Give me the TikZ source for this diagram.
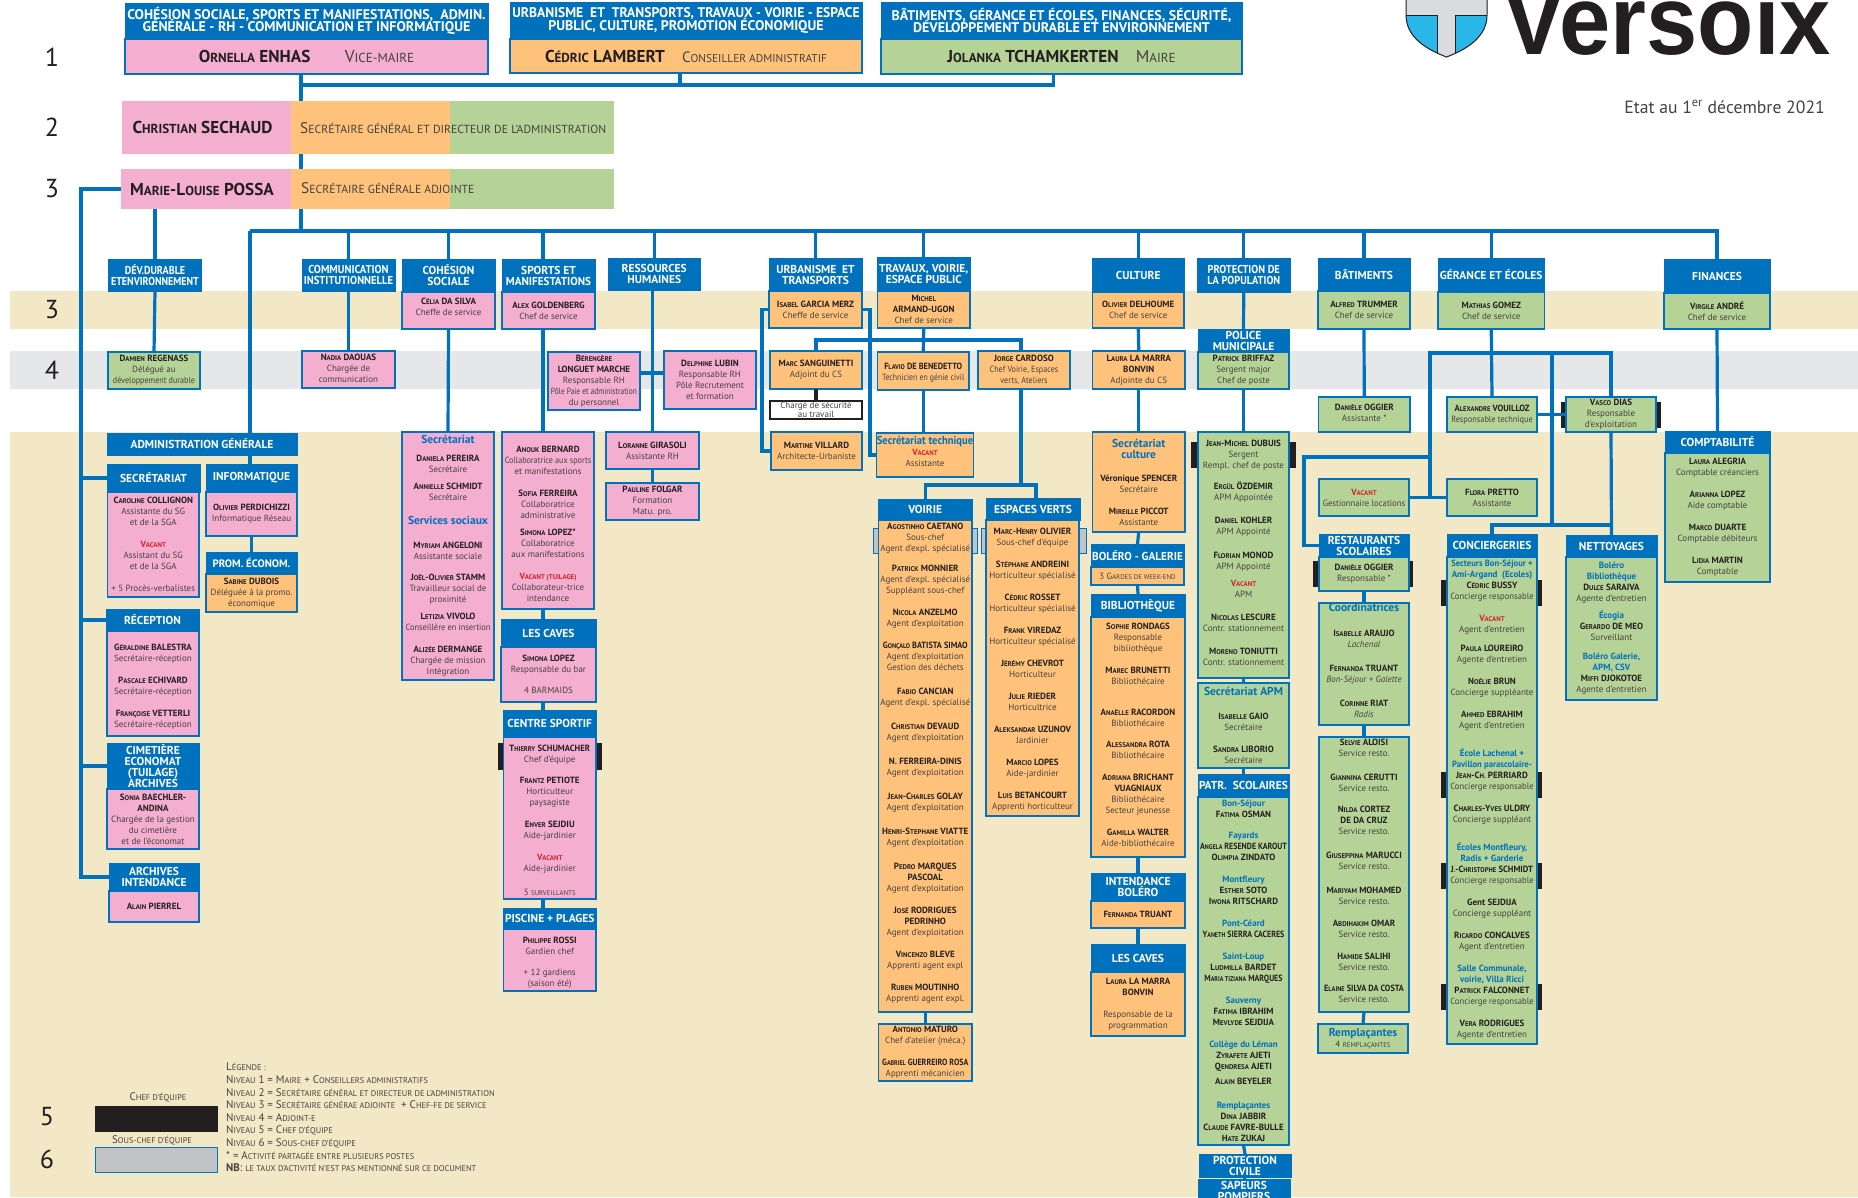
\documentclass[tikz,border=0pt]{standalone}
\usepackage{graphicx}
\usepackage{fontspec}
\setmainfont{PT Sans}
\usetikzlibrary{calc}

\definecolor{headblue}{HTML}{0071BC}
\definecolor{pinkfill}{HTML}{F4AECF}
\definecolor{orangefill}{HTML}{FFC27A}
\definecolor{greenfill}{HTML}{B5D397}
\definecolor{beigeband}{HTML}{F3E8C6}
\definecolor{greyband}{HTML}{E6E7E8}
\definecolor{subgrey}{HTML}{C1C3C5}
\definecolor{namecol}{HTML}{231F20}
\definecolor{rolecol}{HTML}{45423F}
\definecolor{vacred}{HTML}{D2232A}
\definecolor{shieldblue}{HTML}{29B6E9}
\definecolor{shieldgrey}{HTML}{DADBDF}

\makeatletter
\newcommand\smc[1]{{\@tempdima=.76\dimexpr\f@size pt\relax\fontsize{\the\@tempdima}{\the\baselineskip}\selectfont\MakeUppercase{#1}}}
\makeatother
\def\fnsplit#1#2\relax{#1\smc{#2}}
\newcommand\fname[1]{\fnsplit#1\relax}
\newcommand\pn[2]{\textbf{\color{namecol}\fname{#1} #2}}
\newcommand\pnh[3]{\textbf{\color{namecol}\fname{#1}-\fname{#2} #3}}
\newcommand\vac[1]{\textbf{\color{vacred}\fname{#1}}}
\newcommand\bs[1]{\textbf{\color{headblue}#1}}
\newcommand\bt[1]{{\fontsize{11.5}{12}\selectfont\textbf{\color{headblue}#1}}}
\newcommand\sq[2]{\scalebox{#1}[1]{#2}}
\newcommand\pad[1]{\rule[-#1pt]{0pt}{#1pt}}
\newcommand\padt[1]{\rule{0pt}{#1pt}}
\newcommand\orgbox[7][]{\node[minimum width={#5-#3},minimum height={#6-#4},#1] (#2) at ({(#3+#5)/2},{(#4+#6)/2}) {#7};}

\tikzset{
	headbox/.style={fill=headblue,draw=headblue,line width=.6pt,inner sep=0,outer sep=0,align=center,text=white,font=\bfseries\fontsize{11.5}{11}\selectfont},
	tophead/.style={headbox,font=\bfseries\fontsize{14}{12}\selectfont},
	body/.style={draw=headblue,line width=1.2pt,inner sep=0,outer sep=0,align=center,text=rolecol,font=\fontsize{9}{11}\selectfont},
	pinkbox/.style={body,fill=pinkfill},
	orangebox/.style={body,fill=orangefill},
	greenbox/.style={body,fill=greenfill},
	plainbar/.style={inner sep=0,outer sep=0},
	chefbar/.style={fill=namecol,inner sep=0,outer sep=0},
	souschefbar/.style={fill=subgrey,draw=headblue,line width=.8pt,inner sep=0,outer sep=0},
	link/.style={draw=headblue,line width=3.2pt},
	level/.style={text=namecol,font=\fontsize{26}{26}\selectfont},
	topname/.style={font=\fontsize{17.2}{18}\selectfont},
	barrole/.style={anchor=west,inner sep=0,text=rolecol,font=\fontsize{15.4}{16}\selectfont}
}

\begin{document}
\begin{tikzpicture}[x=1pt,y=-1pt]

	\useasboundingbox (0,0) rectangle (1858,1197);
	\clip (0,0) rectangle (1858,1197);
	\fill [white] (0,0) rectangle (1858,1197);

	% bands
	\fill [beigeband] (10,291) rectangle (1858,329);
	\fill [greyband] (10,351) rectangle (1858,389);
	\fill [beigeband] (10,432) rectangle (1858,1197);

	\foreach \num/\xpos/\ypos in {1/52/57,2/52/127,3/52/189,3/52/310,4/52/370,5/47/1117,6/47/1159}
	{
		\node[level] (lvl\ypos) at (\xpos,\ypos) {\num};
	}

	% logo
	\begin{scope}
		\clip (1406,-5) -- (1406,15) .. controls (1406,38) and (1428,50) .. (1446.5,57) .. controls (1465,50) and (1487,38) .. (1487,15) -- (1487,-5) -- cycle;
		\fill [shieldgrey] (1400,-5) rectangle (1490,60);
		\fill [shieldblue] (1400,15) rectangle (1437,60);
		\fill [shieldblue] (1455,15) rectangle (1490,60);
		\draw [line width=1pt,namecol] (1400,15) -- (1437,15) -- (1437,60);
		\draw [line width=1pt,namecol] (1490,15) -- (1455,15) -- (1455,60);
	\end{scope}
	\draw [line width=1pt,namecol] (1406,-5) -- (1406,15) .. controls (1406,38) and (1428,50) .. (1446.5,57) .. controls (1465,50) and (1487,38) .. (1487,15) -- (1487,-5);
	\node[anchor=base west,inner sep=0,text=namecol,font=\fontspec{Liberation Sans}\bfseries\fontsize{98}{98}\selectfont] (versoix) at (1503,54) {\scalebox{.94}[1]{Versoix}};
	\node[anchor=east,inner sep=0,text=rolecol,font=\fontsize{17.7}{18}\selectfont] (etat) at (1825,107) {Etat au 1\textsuperscript{er} décembre 2021};

	% level 1
	\orgbox[tophead]{t1h}{125}{3}{488}{39}{COHÉSION SOCIALE, SPORTS ET MANIFESTATIONS,\ \ ADMIN.\\[-3pt]GÉNÉRALE - RH - COMMUNICATION ET INFORMATIQUE}
	\orgbox[pinkbox,topname]{t1}{125}{39}{488}{74}{\pn{Ornella}{ENHAS}\qquad\fname{Vice-Maire}}
	\orgbox[tophead]{t2h}{510}{2}{862}{39}{\sq{.97}{URBANISME\ \ ET\ \ TRANSPORTS, TRAVAUX - VOIRIE - ESPACE}\\[-3pt]PUBLIC, CULTURE, PROMOTION ÉCONOMIQUE}
	\orgbox[orangebox,topname]{t2}{510}{39}{862}{73}{\pn{Cédric}{LAMBERT}\quad{\fontsize{15}{16}\selectfont\fname{Conseiller administratif}}}
	\orgbox[tophead]{t3h}{881}{2}{1242}{39}{BÂTIMENTS, GÉRANCE ET ÉCOLES, FINANCES, SÉCURITÉ,\\[-3pt]DÉVELOPPEMENT DURABLE ET ENVIRONNEMENT}
	\orgbox[greenbox,topname]{t3}{881}{39}{1242}{74}{\pn{Jolanka}{TCHAMKERTEN}\quad\fname{Maire}}

	% level 2 and 3
	\orgbox[plainbar,fill=pinkfill,topname]{bar2a}{122}{101}{291}{154}{\pn{Christian}{SECHAUD}\hspace*{8pt}}
	\orgbox[plainbar,fill=orangefill]{bar2b}{291}{101}{450}{154}{}
	\orgbox[plainbar,fill=greenfill]{bar2c}{450}{101}{614}{154}{}
	\node[barrole] (bar2t) at (300,128) {\fname{Secrétaire général et directeur de l'administration}};
	\orgbox[plainbar,fill=pinkfill,topname]{bar3a}{121}{169}{291}{209}{\pnh{Marie}{Louise}{POSSA}\hspace*{8pt}}
	\orgbox[plainbar,fill=orangefill]{bar3b}{291}{169}{450}{209}{}
	\orgbox[plainbar,fill=greenfill]{bar3c}{450}{169}{614}{209}{}
	\node[barrole] (bar3t) at (301,188) {\fname{Secrétaire générale adjointe}};

	% services, first column
	\orgbox[headbox]{devh}{108.5}{259}{201.5}{291}{\sq{.88}{DÉV.DURABLE}\\\sq{.87}{ETENVIRONNEMENT}}
	\orgbox[greenbox]{dev}{108}{352}{200}{389}{\pn{Damien}{REGENASS}\\Délégué au\\\sq{.9}{développement durable}}
	\orgbox[headbox]{commh}{302}{259}{395}{291}{\sq{.92}{COMMUNICATION}\\\sq{.92}{INSTITUTIONNELLE}}
	\orgbox[pinkbox]{comm}{302}{351}{395}{388}{\pn{Nadia}{DAOUAS}\\Chargée de\\communication\pad{3}}
	\orgbox[headbox]{admh}{107}{433}{297}{455}{ADMINISTRATION GÉNÉRALE}
	\orgbox[headbox]{secth}{107}{464}{200}{492}{SECRÉTARIAT}
	\orgbox[pinkbox]{sect}{107.5}{492}{199}{597}{\pn{Caroline}{COLLIGNON}\\Assistante du SG\\et de la SGA\\[11pt]\vac{Vacant}\\Assistant du SG\\et de la SGA\\[11pt]+ 5 Procès-verbalistes}
	\orgbox[headbox]{infoh}{206}{464}{297}{492}{INFORMATIQUE}
	\orgbox[pinkbox]{info}{206}{492}{297}{536}{\pn{Olivier}{PERDICHIZZI}\\Informatique Réseau}
	\orgbox[headbox,font=\bfseries\fontsize{10.8}{11}\selectfont]{promh}{206}{552}{297}{574}{PROM. ÉCONOM.}
	\orgbox[orangebox]{prom}{206}{574}{297}{612}{\pn{Sabine}{DUBOIS}\\Déléguée à la promo.\\économique}
	\orgbox[headbox]{recph}{106}{609}{199}{631}{RÉCEPTION}
	\orgbox[pinkbox]{recp}{107}{631}{199}{736}{\padt{13}\pn{Géraldine}{BALESTRA}\\Secrétaire-réception\\[11pt]\pn{Pascale}{ECHIVARD}\\Secrétaire-réception\\[11pt]\pn{Françoise}{VETTERLI}\\Secrétaire-réception}
	\orgbox[headbox]{cimh}{107}{743}{199}{789}{CIMETIÈRE\\ECONOMAT\\(TUILAGE)\\ARCHIVES}
	\orgbox[pinkbox]{cim}{107}{789}{199}{849}{\pn{Sonia}{BAECHLER-}\\\textbf{\color{namecol}ANDINA}\\Chargée de la gestion\\du cimetière\\et de l'économat}
	\orgbox[headbox]{archh}{109}{863}{199}{891}{ARCHIVES\\INTENDANCE}
	\orgbox[pinkbox]{arch}{109}{891}{199}{922}{\pn{Alain}{PIERREL}}

	% cohesion, sports, rh
	\orgbox[headbox]{cohh}{402}{259}{495}{292}{COHÉSION\\SOCIALE}
	\orgbox[pinkbox]{coh}{402}{292}{495}{329}{\pn{Célia}{DA SILVA}\\Cheffe de service\pad{7}}
	\orgbox[pinkbox]{cohsec}{402}{432}{494}{680}{\bt{Secrétariat}\\[7pt]\pn{Daniela}{PEREIRA}\\Secrétaire\\[6pt]\pn{Annielle}{SCHMIDT}\\Secrétaire\\[13pt]\bt{Services sociaux}\\[13pt]\pn{Myriam}{ANGELONI}\\Assistante sociale\\[10pt]\pnh{Joël}{Olivier}{STAMM}\\Travailleur social de\\proximité\\[6pt]\pn{Letizia}{VIVOLO}\\\sq{.93}{Conseillère en insertion}\\[11pt]\pn{Alizée}{DERMANGE}\\Chargée de mission\\Intégration}
	\orgbox[headbox]{sporth}{502}{259}{595}{292}{SPORTS ET\\\sq{.97}{MANIFESTATIONS}}
	\orgbox[pinkbox]{sport}{502}{292}{595}{329}{\pn{Alex}{GOLDENBERG}\\Chef de service}
	\orgbox[pinkbox]{anouk}{502}{432}{594}{609}{\padt{14}\pn{Anouk}{BERNARD}\\\sq{.9}{Collaboratrice aux sports}\\et manifestations\\[11pt]\pn{Sofia}{FERREIRA}\\Collaboratrice\\administrative\\[6pt]\pn{Simona}{LOPEZ*}\\Collaboratrice\\aux manifestations\\[11pt]\vac{Vacant (tuilage)}\\Collaborateur-trice\\intendance}
	\orgbox[pinkbox]{beren}{548}{352}{640}{410}{\textbf{\color{namecol}\fname{Bérengère}}\\\textbf{\color{namecol}LONGUET MARCHE}\\Responsable RH\\\sq{.83}{Pôle Paie et administration}\\du personnel}
	\orgbox[headbox]{cavesh}{501}{619}{596}{647}{LES CAVES}
	\orgbox[pinkbox]{caves}{501}{647}{596}{702}{\pn{Simona}{LOPEZ}\\Responsable du bar\\[10pt]4 BARMAIDS}
	\orgbox[chefbar]{centretab}{498}{743}{602}{770}{}
	\orgbox[headbox]{centreh}{503.5}{710}{596}{737}{CENTRE SPORTIF}
	\orgbox[pinkbox]{centre}{503.5}{737}{596}{899}{\padt{11}\sq{.96}{\pn{Thierry}{SCHUMACHER}}\\Chef d'équipe\\[10pt]\pn{Frantz}{PETIOTE}\\Horticulteur\\paysagiste\\[11pt]\pn{Enver}{SEJDIU}\\Aide-jardinier\\[11pt]\vac{Vacant}\\Aide-jardinier\\[13pt]5 \smc{surveillants}}
	\orgbox[headbox]{piscineh}{503.5}{908}{596}{929}{PISCINE + PLAGES}
	\orgbox[pinkbox]{piscine}{503.5}{929}{596}{991}{\padt{11}\pn{Philippe}{ROSSI}\\Gardien chef\\[10pt]+ 12 gardiens\\(saison été)}
	\orgbox[headbox]{rhh}{608}{258}{700.5}{290}{RESSOURCES\\HUMAINES}
	\orgbox[pinkbox]{delph}{664}{351}{756}{409}{\pn{Delphine}{LUBIN}\\Responsable RH\\Pôle Recrutement\\et formation}
	\orgbox[pinkbox]{lorane}{606}{432}{699}{469}{\pn{Loranne}{GIRASOLI}\\Assistante RH}
	\orgbox[pinkbox]{pauline}{606}{483}{699}{520}{\pn{Pauline}{FOLGAR}\\Formation\\Matu. pro.}

	% urbanisme, travaux
	\orgbox[headbox]{urbh}{769}{258}{862}{291}{URBANISME\ \ ET\\TRANSPORTS}
	\orgbox[orangebox]{urb}{769}{291}{862}{328}{\pn{Isabel}{GARCIA MERZ}\\Cheffe de service}
	\orgbox[orangebox]{marc}{770}{351}{862}{389}{\pn{Marc}{SANGUINETTI}\\Adjoint du CS}
	\orgbox[body,fill=white,draw=namecol,font=\fontsize{9}{8.5}\selectfont]{secu}{770}{401}{862}{419}{Chargé de sécurité\\au travail}
	\orgbox[orangebox]{mart}{771}{432}{862}{470}{\pn{Martine}{VILLARD}\\Architecte-Urbaniste}
	\orgbox[headbox]{travh}{877.5}{257}{970}{291}{TRAVAUX, VOIRIE,\\ESPACE PUBLIC}
	\orgbox[orangebox]{trav}{877.5}{291}{970}{328}{\textbf{\color{namecol}\fname{Michel}}\\\textbf{\color{namecol}ARMAND-UGON}\\Chef de service}
	\orgbox[orangebox]{flavio}{877.5}{352}{969}{390}{\padt{10}\sq{.92}{\pn{Flavio}{DE BENEDETTO}}\\\sq{.87}{Technicien en génie civil}}
	\orgbox[orangebox]{jorge}{978}{351}{1070}{389}{\pn{Jorge}{CARDOSO}\\\sq{.9}{Chef Voirie, Espaces}\\\sq{.9}{verts, Ateliers}}
	\orgbox[orangebox]{sectech}{878}{433}{972}{477}{\sq{.92}{\bt{Secrétariat technique}}\\\vac{Vacant}\\Assistante\pad{7}}
	\orgbox[souschefbar]{voirtab}{873}{528}{977.5}{553}{}
	\orgbox[headbox]{voirh}{878}{499}{972.5}{520}{VOIRIE}
	\orgbox[orangebox]{voir}{878.5}{520}{972}{1012}{\pn{Agostinho}{CAETANO}\\Sous-chef\\Agent d'expl. spécialisé\\[9pt]\pn{Patrick}{MONNIER}\\Agent d'expl. spécialisé\\Suppléant sous-chef\\[11pt]\pn{Nicola}{ANZELMO}\\Agent d'exploitation\\[11pt]\sq{.92}{\pn{Gonçalo}{BATISTA SIMAO}}\\Agent d'exploitation\\Gestion des déchets\\[13pt]\pn{Fabio}{CANCIAN}\\Agent d'expl. spécialisé\\[13pt]\pn{Christian}{DEVAUD}\\Agent d'exploitation\\[13pt]\textbf{\color{namecol}N. FERREIRA-DINIS}\\Agent d'exploitation\\[13pt]\pnh{Jean}{Charles}{GOLAY}\\Agent d'exploitation\\[13pt]\pnh{Henri}{Stephane}{VIATTE}\\Agent d'exploitation\\[13pt]\pn{Pedro}{MARQUES}\\\textbf{\color{namecol}PASCOAL}\\Agent d'exploitation\\[11pt]\pn{José}{RODRIGUES}\\\textbf{\color{namecol}PEDRINHO}\\Agent d'exploitation\\[11pt]\pn{Vincenzo}{BLEVE}\\Apprenti agent expl\\[11pt]\pn{Ruben}{MOUTINHO}\\Apprenti agent expl.\pad{7}}
	\orgbox[orangebox]{matu}{878.5}{1024}{972}{1081}{\pn{Antonio}{MATURO}\\Chef d'atelier (méca.)\\[11pt]\sq{.88}{\pn{Gabriel}{GUERREIRO ROSA}}\\Apprenti mécanicien}
	\orgbox[souschefbar]{esptab}{981.5}{528}{1086}{553}{}
	\orgbox[headbox]{esph}{986}{498}{1080}{520}{ESPACES VERTS}
	\orgbox[orangebox]{esp}{986}{520}{1079}{816}{\padt{10}\pnh{Marc}{Henry}{OLIVIER}\\Sous-chef d'équipe\\[11pt]\pn{Stéphane}{ANDREINI}\\Horticulteur spécialisé\\[11pt]\pn{Cédric}{ROSSET}\\Horticulteur spécialisé\\[11pt]\pn{Frank}{VIREDAZ}\\Horticulteur spécialisé\\[11pt]\pn{Jérémy}{CHEVROT}\\Horticulteur\\[11pt]\pn{Julie}{RIEDER}\\Horticultrice\\[11pt]\pn{Aleksandar}{UZUNOV}\\Jardinier\\[11pt]\pn{Marcio}{LOPES}\\Aide-jardinier\\[11pt]\pn{Luis}{BETANCOURT}\\Apprenti horticulteur}

	% culture
	\orgbox[headbox]{culth}{1092.5}{258}{1184}{292}{CULTURE}
	\orgbox[orangebox]{cult}{1092.5}{292}{1184}{328}{\pn{Olivier}{DELHOUME}\\Chef de service}
	\orgbox[orangebox]{laura}{1092.5}{351}{1185}{389}{\pn{Laura}{LA MARRA}\\\textbf{\color{namecol}BONVIN}\\Adjointe du CS}
	\orgbox[orangebox]{seccult}{1092.5}{432}{1185}{532}{\bt{Secrétariat}\\\bt{culture}\\[12pt]\textbf{\color{namecol}Véronique SPENCER}\\Secrétaire\\[11pt]\pn{Mireille}{PICCOT}\\Assistante}
	\orgbox[headbox]{bolh}{1091}{544}{1184}{567}{\sq{.98}{BOLÉRO - GALERIE}}
	\orgbox[orangebox]{bol}{1091}{567}{1184}{585}{3 \fname{Gardes de week-end}}
	\orgbox[headbox]{bibh}{1091}{594}{1185}{617}{BIBLIOTHÈQUE}
	\orgbox[orangebox]{bib}{1091}{617}{1185}{857}{\pn{Sophie}{RONDAGS}\\Responsable\\bibliothèque\\[11pt]\pn{Marec}{BRUNETTI}\\Bibliothécaire\\[20pt]\pn{Anaëlle}{RACORDON}\\Bibliothécaire\\[10pt]\pn{Alessandra}{ROTA}\\Bibliothécaire\\[11pt]\pn{Adriana}{BRICHANT}\\\textbf{\color{namecol}VUAGNIAUX}\\Bibliothécaire\\Secteur jeunesse\\[11pt]\pn{Gamilla}{WALTER}\\Aide-bibliothécaire\pad{5}}
	\orgbox[headbox]{intendh}{1091}{873}{1185}{901}{INTENDANCE\\BOLÉRO}
	\orgbox[orangebox]{intend}{1091}{901}{1185}{928}{\pn{Fernanda}{TRUANT}}
	\orgbox[headbox]{caveh}{1091}{944}{1185}{972}{LES CAVES}
	\orgbox[orangebox]{cave}{1091}{972}{1185}{1036}{\pn{Laura}{LA MARRA}\\\textbf{\color{namecol}BONVIN}\\[11pt]Responsable de la\\programmation}

	% protection de la population
	\orgbox[headbox]{proth}{1197.5}{258}{1290}{292}{\sq{.9}{PROTECTION DE}\\\sq{.9}{LA POPULATION}}
	\orgbox[headbox]{polh}{1198}{329}{1289}{352}{POLICE\\MUNICIPALE}
	\orgbox[greenbox]{pol}{1198}{352}{1289}{389}{\pn{Patrick}{BRIFFAZ}\\Sergent major\\Chef de poste}
	\orgbox[chefbar]{dubtab}{1191}{442}{1296}{468}{}
	\orgbox[greenbox]{dubuis}{1198}{432}{1289}{678}{\pnh{Jean}{Michel}{DUBUIS}\\Sergent\\Rempl. chef de poste\\[10pt]\pn{Ergül}{ÖZDEMIR}\\APM Appointée\\[12pt]\pn{Daniel}{KOHLER}\\APM Appointé\\[13pt]\pn{Florian}{MONOD}\\APM Appointé\\[6pt]\vac{Vacant}\\APM\\[12pt]\pn{Nicolas}{LESCURE}\\Contr. stationnement\\[12pt]\pn{Moreno}{TONIUTTI}\\Contr. stationnement\pad{5}}
	\orgbox[greenbox]{apm}{1198}{683}{1289}{768}{\bt{Secrétariat APM}\\[13pt]\pn{Isabelle}{GAIO}\\Secrétaire\\[11pt]\pn{Sandra}{LIBORIO}\\Secrétaire}
	\orgbox[headbox]{patrh}{1198}{774}{1289}{797}{PATR.\ \ SCOLAIRES}
	\orgbox[greenbox]{patr}{1198}{797}{1289}{1145}{\bs{Bon-Séjour}\\\pn{Fatima}{OSMAN}\\[10pt]\bs{Fayards}\\\sq{.88}{\pn{Angela}{RESENDE KAROUT}}\\\pn{Olimpia}{ZINDATO}\\[11pt]\bs{Montfleury}\\\pn{Esther}{SOTO}\\\pn{Iwona}{RITSCHARD}\\[11pt]\bs{Pont-Céard}\\\sq{.88}{\pn{Yaneth}{SIERRA CACERES}}\\[11pt]\bs{Saint-Loup}\\\pn{Ludmilla}{BARDET}\\\sq{.88}{\pn{Maria Tiziana}{MARQUES}}\\[11pt]\bs{Sauverny}\\\pn{Fatima}{IBRAHIM}\\\pn{Mevlyde}{SEJDIJA}\\[11pt]\bs{Collège du Léman}\\\pn{Zyrafete}{AJETI}\\\pn{Qendresa}{AJETI}\\[4pt]\pn{Alain}{BEYELER}\\[13pt]\bs{Remplaçantes}\\\pn{Dina}{JABBIR}\\\pn{Claude}{FAVRE-BULLE}\\\pn{Hate}{ZUKAJ}}
	\orgbox[headbox]{pch}{1199}{1154}{1291}{1177}{PROTECTION\\CIVILE}
	\orgbox[headbox]{sapeurs}{1198}{1179}{1290}{1202}{SAPEURS\\POMPIERS}

	% batiments
	\orgbox[headbox]{bath}{1318}{258}{1410}{291}{BÂTIMENTS}
	\orgbox[greenbox]{bat}{1318}{291}{1410}{329}{\pn{Alfred}{TRUMMER}\\Chef de service}
	\orgbox[greenbox]{dani}{1318.5}{397}{1410}{432}{\pn{Danièle}{OGGIER}\\Assistante *\pad{3}}

	% gerance et ecoles
	\orgbox[headbox]{gerh}{1438}{258}{1544.5}{292}{GÉRANCE ET ÉCOLES}
	\orgbox[greenbox]{ger}{1438}{292}{1544.5}{329}{\pn{Mathias}{GOMEZ}\\Chef de service}
	\orgbox[greenbox]{alex}{1447}{397}{1537}{432}{\sq{.96}{\pn{Alexandre}{VOUILLOZ}}\\\sq{.92}{Responsable technique}}
	\orgbox[chefbar]{vascotab}{1561}{402}{1661}{428}{}
	\orgbox[greenbox]{vasco}{1566}{397}{1656}{432}{\pn{Vasco}{DIAS}\\Responsable\\d'exploitation}
	\orgbox[greenbox]{vacloc}{1319}{479}{1409}{516}{\vac{Vacant}\\\sq{.96}{Gestionnaire locations}}
	\orgbox[greenbox]{flora}{1447}{479}{1537}{516}{\pn{Flora}{PRETTO}\\Assistante}
	\orgbox[chefbar]{restotab}{1313}{561}{1413}{587}{}
	\orgbox[headbox]{restoh}{1319}{534}{1409}{557}{RESTAURANTS\\SCOLAIRES}
	\orgbox[greenbox]{resto}{1319}{557}{1409}{591}{\pn{Danièle}{OGGIER}\\Responsable *}
	\orgbox[greenbox]{coord}{1319}{603}{1409}{725}{\bt{Coordinatrices}\\[14pt]\pn{Isabelle}{ARAUJO}\\\textit{Lachenal}\\[13pt]\pn{Fernanda}{TRUANT}\\\textit{Bon-Séjour + Galette}\\[13pt]\pn{Corinne}{RIAT}\\\textit{Radis}\pad{7}}
	\orgbox[greenbox]{selvie}{1319}{737}{1409}{1012}{\pn{Selvie}{ALOISI}\\Service resto.\\[13pt]\pn{Giannina}{CERUTTI}\\Service resto.\\[10pt]\pn{Nilda}{CORTEZ}\\\textbf{\color{namecol}DE DA CRUZ}\\Service resto.\\[13pt]\pn{Giuseppina}{MARUCCI}\\Service resto.\\[13pt]\pn{Mariyam}{MOHAMED}\\Service resto.\\[11pt]\pn{Abdihakim}{OMAR}\\Service resto.\\[11pt]\pn{Hamide}{SALIHI}\\Service resto.\\[10pt]\sq{.92}{\pn{Elaine}{SILVA DA COSTA}}\\Service resto.\pad{7}}
	\orgbox[greenbox]{rempl}{1318}{1024}{1408}{1053}{\bt{Remplaçantes}\\4 \smc{remplaçantes}}

	% the black bars of conciergeries lie behind the box
	\foreach \ytop/\ybot [count=\i] in {580/606,772/798,863/889,984/1010}
	{
		\orgbox[chefbar]{conctab\i}{1441}{\ytop}{1542}{\ybot}{}
	}
	\orgbox[headbox]{conch}{1447}{534}{1537}{557}{CONCIERGERIES}
	\orgbox[greenbox]{conc}{1447}{557}{1537}{1044}{\sq{.96}{\bs{Secteurs Bon-Séjour +}}\\\bs{Ami-Argand\ \ (Ecoles)}\\\pn{Cédric}{BUSSY}\\\sq{.96}{Concierge responsable}\\[11pt]\vac{Vacant}\\Agent d'entretien\\[8pt]\pn{Paula}{LOUREIRO}\\Agente d'entretien\\[11pt]\pn{Noélie}{BRUN}\\Concierge suppléante\\[11pt]\pn{Ahmed}{EBRAHIM}\\Agent d'entretien\\[17pt]\bs{École Lachenal +}\\\sq{.96}{\bs{Pavillon parascolaire-}}\\\pnh{Jean}{Ch.}{PERRIARD}\\\sq{.96}{Concierge responsable}\\[11pt]\pnh{Charles}{Yves}{ULDRY}\\Concierge suppléant\\[17pt]\bs{Écoles Montfleury,}\\\bs{Radis + Garderie}\\\sq{.96}{\pnh{J.}{Christophe}{SCHMIDT}}\\\sq{.96}{Concierge responsable}\\[11pt]\textbf{\color{namecol}Gent SEJDIJA}\\Concierge suppléant\\[11pt]\pn{Ricardo}{CONCALVES}\\Agent d'entretien\\[11pt]\bs{Salle Communale,}\\\bs{voirie, Villa Ricci}\\\pn{Patrick}{FALCONNET}\\\sq{.96}{Concierge responsable}\\[11pt]\pn{Vera}{RODRIGUES}\\Agente d'entretien\pad{3}}
	\orgbox[headbox]{netth}{1566}{535}{1657}{557}{NETTOYAGES}
	\orgbox[greenbox]{nett}{1566}{557}{1657}{700}{\bs{Boléro}\\\bs{Bibliothèque}\\\pn{Dulce}{SARAIVA}\\Agente d'entretien\\[6pt]\bs{Écogia}\\\pn{Gerardo}{DE MEO}\\Surveillant\\[8pt]\bs{Boléro Galerie,}\\\bs{APM, CSV}\\\pn{Miffi}{DJOKOTOE}\\Agente d'entretien}

	% finances
	\orgbox[headbox]{finh}{1664}{259}{1770}{293}{FINANCES}
	\orgbox[greenbox]{fin}{1664}{293}{1770}{329}{\pn{Virgile}{ANDRÉ}\\Chef de service}
	\orgbox[headbox]{compth}{1665}{431}{1770}{453}{COMPTABILITÉ}
	\orgbox[greenbox]{compt}{1665}{453}{1770}{582}{\pn{Laura}{ALEGRIA}\\Comptable créanciers\\[11pt]\pn{Arianna}{LOPEZ}\\Aide comptable\\[11pt]\pn{Marco}{DUARTE}\\Comptable débiteurs\\[11pt]\pn{Lidia}{MARTIN}\\Comptable}

	% connectors of the top of the chart
	\coordinate (topbus) at (301,85);
	\coordinate (mainbus) at (301,231);
	\coordinate (adminline) at (250,231);
	\coordinate (sportline) at (543,231);
	\draw [link] (t1.south -| topbus) -- (bar2b.north -| topbus);
	\draw [link] (bar2b.south -| topbus) -- (bar3b.north -| topbus);
	\draw [link] (bar3b.south -| topbus) -- (mainbus);
	\draw [link] ([xshift=-6pt]t2.south) |- (topbus);
	\draw [link] ([xshift=-8pt]t3.south) |- (topbus);
	\draw [link] (adminline) -- (adminline -| finh.north) -- (finh.north);
	\foreach \b in {commh,cohh,rhh,urbh,travh,culth,proth,bath,gerh}
	{
		\draw [link] (adminline -| \b.north) -- (\b.north);
	}
	\draw [link] (sportline) -- (sportline |- sporth.north);
	\draw [link] (adminline) -- (adminline |- admh.north);

	% left rail
	\coordinate (leftrail) at (81,190);
	\draw [link] (bar3a.west) -| (leftrail |- archh.west) -- (archh.west);
	\foreach \b in {secth,recph,cimh}
	{
		\draw [link] (leftrail |- \b.west) -- (\b.west);
	}
	\draw [link] (bar3a.south -| devh.north) -- (devh.north);
	\draw [link] (devh.south) -- (dev.north);
	\draw [link] (commh.south) -- (comm.north);
	\draw [link] (adminline |- admh.south) -- (adminline |- infoh.north);
	\draw [link] (info.south) -- (promh.north);

	% cohesion, sports, rh
	\draw [link] (coh.south) -- (cohsec.north);
	\draw [link] (sportline |- sport.south) -- (sportline |- anouk.north);
	\draw [link] (sportline |- anouk.south) -- (sportline |- cavesh.north);
	\draw [link] (sportline |- caves.south) -- (sportline |- centreh.north);
	\draw [link] (sportline |- centre.south) -- (sportline |- piscineh.north);
	\draw [link] (lorane.north |- rhh.south) -- (lorane.north);
	\draw [link] (lorane.south) -- (pauline.north);
	\draw [link] ([yshift=8pt]beren.east) -- ([yshift=7pt]delph.west);

	% urbanisme, travaux
	\coordinate (travbus) at (923,340);
	\coordinate (voirbus) at (1021,485);
	\draw [link] (urb.west) -- ++(-7,0) |- (mart.west);
	\draw [link] (urb.east) -- ++(8,0) |- (sectech.west);
	\draw [link] (trav.south) -- (flavio.north);
	\draw [link] (marc.north) |- (travbus) -| ([xshift=-3pt]jorge.north);
	\draw [link,draw=namecol] (secu.north -| marc.south) -- (marc.south);
	\draw [link] (flavio.south) -- (flavio.south |- sectech.north);
	\draw [link] ([xshift=-3pt]jorge.south) -- (voirbus);
	\draw [link] (voirh.north) |- (voirbus) -| ([xshift=3pt]esph.north);
	\draw [link] (voir.south) -- (matu.north);

	% culture
	\draw [link] (cult.south) -- (laura.north);
	\draw [link] (laura.south) -- (seccult.north);
	\draw [link] (seccult.south) -- (bolh.north);
	\draw [link] (bol.south) -- (bibh.north);
	\draw [link] (bib.south) -- (intendh.north);
	\draw [link] (intend.south) -- (caveh.north);

	% protection
	\draw [link] (proth.south) -- (polh.north);
	\draw [link] (pol.south) -- (dubuis.north);
	\draw [link] (dubuis.south) -- (apm.north);
	\draw [link] (apm.south) -- (patrh.north);
	\draw [link] (patr.south) -- (pch.north);
	\draw [link] (pch.south) -- (sapeurs.north);

	% batiments, gerance
	\coordinate (gerbus) at (1430,353);
	\coordinate (gerjct) at (1552,353);
	\coordinate (restojct) at (1430,457);
	\coordinate (concbus) at (1552,525);
	\draw [link] (bat.south) -- (dani.north);
	\draw [link] (ger.south) -- (alex.north);
	\draw [link] (restojct) -| ([xshift=-15pt]restoh.west) -- (restoh.west);
	\draw [link] (vasco.north) |- (gerbus) -- (gerbus |- flora.west);
	\draw [link] (vacloc.east) -- (flora.west);
	\draw [link] (gerjct) -- (concbus);
	\draw [link] (conch.north) |- (concbus) -- (concbus -| netth.north);
	\draw [link] (vasco.south) -- (netth.north);
	\draw [link] (alex.east) -- (vasco.west);
	\draw [link] (resto.south) -- (coord.north);
	\draw [link] (coord.south) -- (selvie.north);
	\draw [link] (selvie.south) -- (rempl.north);
	\draw [link] (fin.south) -- (compth.north);

	% legend
	\node[inner sep=0,text=rolecol,font=\fontsize{11}{12}\selectfont] (chefl) at (158,1097) {\fname{Chef d'équipe}};
	\orgbox[chefbar]{chefk}{95}{1106}{218}{1132}{}
	\node[inner sep=0,text=rolecol,font=\fontsize{11}{12}\selectfont] (souschefl) at (152,1140) {\fname{Sous-chef d'équipe}};
	\orgbox[souschefbar]{souschefk}{95}{1147}{217}{1172}{}
	\node[anchor=north west,inner sep=0,align=left,text=rolecol,font=\fontsize{11}{12.6}\selectfont] (legend) at (226,1063) {\fname{Légende :}\\\fname{Niveau} 1 = \fname{Maire} + \fname{Conseillers administratifs}\\\fname{Niveau} 2 = \fname{Secrétaire général et directeur de l'administration}\\\fname{Niveau} 3 = \fname{Secrétaire générae adjointe}\ \ + \fname{Chef-fe de service}\\\fname{Niveau} 4 = \fname{Adjoint-e}\\\fname{Niveau} 5 = \fname{Chef d'équipe}\\\fname{Niveau} 6 = \fname{Sous-chef d'équipe}\\* = \fname{Activité partagée entre plusieurs postes}\\\textbf{NB}: \smc{le taux d'activité n'est pas mentionné sur ce document}};

\end{tikzpicture}
\end{document}
